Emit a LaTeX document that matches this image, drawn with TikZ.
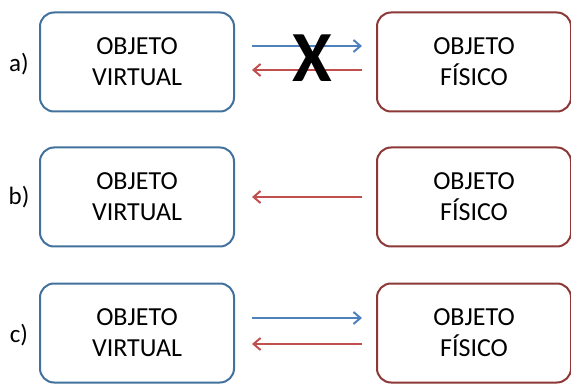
\documentclass[tikz,border=0pt]{standalone}
\usepackage{fontspec}
\setmainfont{Carlito}
\usetikzlibrary{arrows.meta}
\definecolor{vborder}{HTML}{41719C}
\definecolor{fborder}{HTML}{8C3836}
\definecolor{barrow}{HTML}{4F81BD}
\definecolor{rarrow}{HTML}{C0504D}
\tikzset{
  objbox/.style={draw, line width=2pt, rounded corners=14pt, minimum width=194pt, minimum height=99pt, align=center, font=\fontsize{26}{31}\selectfont, inner sep=0pt},
  virt/.style={objbox, draw=vborder},
  fis/.style={objbox, draw=fborder},
  lbl/.style={font=\fontsize{25}{28}\selectfont, inner sep=0pt},
  blarrow/.style={draw=barrow, line width=2pt, -{Straight Barb[length=7pt,width=12pt,line width=2pt]}},
  rdarrow/.style={draw=rarrow, line width=2pt, -{Straight Barb[length=7pt,width=12pt,line width=2pt]}}
}
\begin{document}
\begin{tikzpicture}[x=1pt,y=-1pt]
\useasboundingbox (0,0) rectangle (571,385);
% row a
\node[virt] (va) at (137,62) {OBJETO\\VIRTUAL};
\node[fis] (fa) at (474,62) {OBJETO\\FÍSICO};
\node[lbl] (la) at (19,64) {a)};
\coordinate (a1s) at (252,46); \coordinate (a1e) at (362,46);
\coordinate (a2s) at (362,70); \coordinate (a2e) at (252,70);
\draw[blarrow] (a1s) -- (a1e);
\draw[rdarrow] (a2s) -- (a2e);
\node[font=\fontsize{72}{72}\selectfont\bfseries, inner sep=0pt] (xa) at (312,58) {X};
% row b
\node[virt] (vb) at (137,197) {OBJETO\\VIRTUAL};
\node[fis] (fb) at (474,197) {OBJETO\\FÍSICO};
\node[lbl] (lb) at (19,197) {b)};
\coordinate (bs) at (362,197); \coordinate (be) at (252,197);
\draw[rdarrow] (bs) -- (be);
% row c
\node[virt] (vc) at (137,333) {OBJETO\\VIRTUAL};
\node[fis] (fc) at (474,333) {OBJETO\\FÍSICO};
\node[lbl] (lc) at (19,335) {c)};
\coordinate (c1s) at (252,318); \coordinate (c1e) at (362,318);
\coordinate (c2s) at (362,344); \coordinate (c2e) at (252,344);
\draw[blarrow] (c1s) -- (c1e);
\draw[rdarrow] (c2s) -- (c2e);
\end{tikzpicture}
\end{document}
